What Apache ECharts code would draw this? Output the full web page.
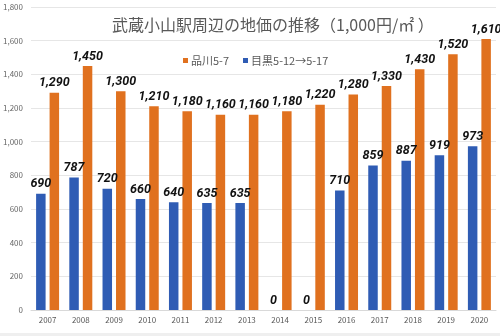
<!DOCTYPE html>
<html><head><meta charset="utf-8">
<script src="https://cdn.jsdelivr.net/npm/echarts@6/dist/echarts.min.js"></script>
<style>html,body{margin:0;padding:0;background:#efefef;}#c{width:500px;height:333px;background:#fff;}</style>
</head><body><div id="c"></div>
<script>
const categories = ['2007','2008','2009','2010','2011','2012','2013','2014','2015','2016','2017','2018','2019','2020'];
const meguro = [690,787,720,660,640,635,635,0,0,710,859,887,919,973];
const shinagawa = [1290,1450,1300,1210,1180,1160,1160,1180,1220,1280,1330,1430,1520,1610];
const titleText = '武蔵小山駅周辺の地価の推移（1,000円/㎡ ）';
const nameShinagawa = '品川5-7';
const nameMeguro = '目黒5-12→5-17';
const fmt = v => v.toLocaleString('en-US');
const chart = echarts.init(document.getElementById('c'));
const lbl = {show:true, position:'top', distance:3, color:'#111', fontSize:12.5, fontWeight:'bold', fontStyle:'italic', fontFamily:'Roboto, Noto Sans, sans-serif', formatter:p=>fmt(p.value)};
chart.setOption({
  animation:false,
  textStyle:{fontFamily:'Noto Sans CJK JP, Noto Sans, sans-serif'},
  title:{text:titleText, left:107, top:12, textStyle:{fontSize:16, fontWeight:'normal', color:'#595959', fontFamily:'Noto Sans CJK JP, sans-serif'}},
  legend:{data:[nameShinagawa,nameMeguro], left:178, top:50, itemWidth:5, itemHeight:5, itemGap:14, icon:'rect', textStyle:{fontSize:11, color:'#595959', padding:[0,0,0,-2]}},
  grid:{left:30, right:4, top:7, bottom:23},
  xAxis:{type:'category', data:categories, axisTick:{show:false}, axisLine:{lineStyle:{color:'#d9d9d9'}}, axisLabel:{fontSize:8, color:'#595959', margin:6}},
  yAxis:{type:'value', min:0, max:1800, interval:200, axisLabel:{fontSize:8, color:'#666', margin:8, formatter:fmt}, splitLine:{lineStyle:{color:'#e6e6e6'}}},
  series:[
    {name:nameMeguro, type:'bar', data:meguro, barWidth:9.5, barGap:'42%', itemStyle:{color:'#2f5cb4'}, label:lbl},
    {name:nameShinagawa, type:'bar', data:shinagawa, barWidth:9.5, itemStyle:{color:'#e0711f'}, label:lbl}
  ]
});
</script></body></html>
